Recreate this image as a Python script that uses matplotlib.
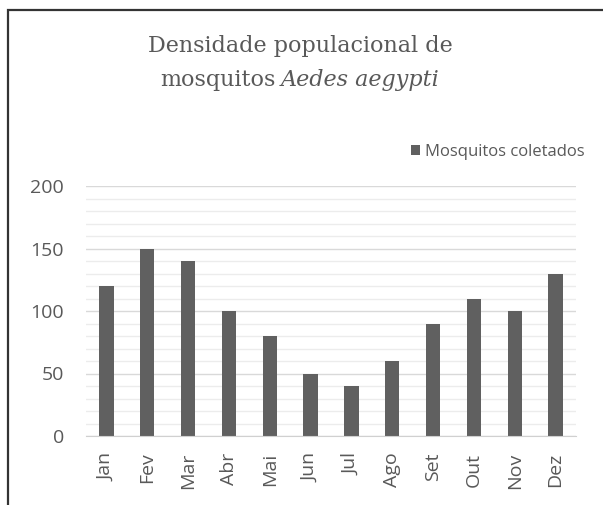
import matplotlib.pyplot as plt
from matplotlib.patches import Rectangle
from matplotlib.ticker import MultipleLocator

# dados
meses = ['Jan', 'Fev', 'Mar', 'Abr', 'Mai', 'Jun', 'Jul', 'Ago', 'Set', 'Out', 'Nov', 'Dez']
mosquitos = [120, 150, 140, 100, 80, 50, 40, 60, 90, 110, 100, 130]
serie = 'Mosquitos coletados'
titulo1 = 'Densidade populacional de'
titulo2a = 'mosquitos'
titulo2b = 'Aedes aegypti'

W, H = 603, 505
cinza = '#595959'
plt.rcParams['font.family'] = ['Open Sans', 'DejaVu Sans']

fig = plt.figure(figsize=(W / 100, H / 100), dpi=100)
ax = fig.add_axes([86 / W, 1 - 436 / H, 490 / W, 250 / H])

x = range(len(meses))
bars = ax.bar(x, mosquitos, width=0.35, color='#606060', zorder=3, label=serie)

ax.set_xlim(-0.5, len(meses) - 0.5)
ax.set_ylim(0, 200)
ax.yaxis.set_major_locator(MultipleLocator(50))
ax.yaxis.set_minor_locator(MultipleLocator(10))
ax.grid(axis='y', which='major', color='#d9d9d9', lw=1, zorder=0)
ax.grid(axis='y', which='minor', color='#ececec', lw=1, zorder=0)

for s in ['top', 'right', 'left']:
    ax.spines[s].set_visible(False)
ax.spines['bottom'].set_color('#d0d0d0')
ax.spines['bottom'].set_zorder(4)

ax.set_xticks(list(x))
ax.set_xticklabels(meses, rotation=90)
ax.tick_params(axis='x', length=0, pad=12, labelsize=14, labelcolor=cinza)
ax.tick_params(axis='y', which='both', length=0, pad=16, labelsize=14, labelcolor=cinza)

ax.legend(handles=[bars], labels=[serie], loc='center right',
          bbox_to_anchor=(585 / W, 1 - 152 / H), bbox_transform=fig.transFigure,
          frameon=False, fontsize=12, labelcolor=cinza,
          handlelength=0.55, handleheight=0.55, handletextpad=0.3,
          borderpad=0, borderaxespad=0)

# titulo
fig.text(300 / W, 1 - 46 / H, titulo1, ha='center', va='center',
         family='DejaVu Serif', fontsize=16, color=cinza)
t_a = fig.text(0, 1 - 80 / H, titulo2a, ha='left', va='center',
               family='DejaVu Serif', fontsize=16, color=cinza)
t_b = fig.text(0, 1 - 80 / H, titulo2b, ha='left', va='center',
               family='DejaVu Serif', style='italic', fontsize=16, color=cinza)
r = fig.canvas.get_renderer()
wa = t_a.get_window_extent(r).width
wb = t_b.get_window_extent(r).width
gap = 5
x0 = 300 - (wa + gap + wb) / 2
t_a.set_x(x0 / W)
t_b.set_x((x0 + wa + gap) / W)

# moldura
fig.add_artist(Rectangle((7.5 / W, -0.1), 1.0, 1.1 - 9.5 / H, transform=fig.transFigure,
                         fill=False, edgecolor='#333333', lw=1.6))

fig.savefig('out.png', dpi=100)
